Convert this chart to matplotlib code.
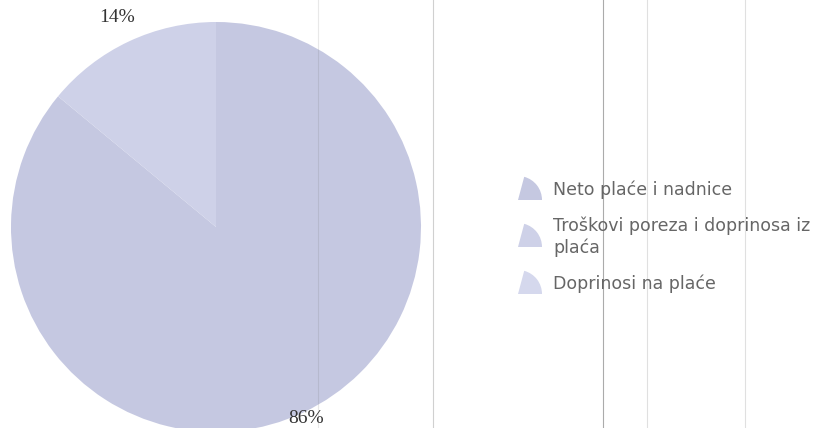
import matplotlib
matplotlib.use('Agg')
import numpy as np
import matplotlib.pyplot as plt
from matplotlib.patches import Wedge
from matplotlib.lines import Line2D

# === 数据 ===
categories = ['Neto plaće i nadnice',
              'Troškovi poreza i doprinosa iz\nplaća',
              'Doprinosi na plaće']
shares = [86, 14, 0]
colors = ['#c5c8e1', '#ced1e8', '#d5d8ed']
label_dist = [1.03, 1.13, 1.13]   # 86% label sits lower, half on the page edge

W, H, DPI = 833, 428, 100
fig = plt.figure(figsize=(W / DPI, H / DPI), dpi=DPI)
fig.patch.set_facecolor('white')

# pie placed in pixel coords (centre / radius)
cx, cy, r = 216, 227, 205
ax = fig.add_axes([(cx - r) / W, (H - cy - r) / H, 2 * r / W, 2 * r / H])

vals = [v for v in shares if v > 0]
cols = [c for v, c in zip(shares, colors) if v > 0]
dists = [d for v, d in zip(shares, label_dist) if v > 0]
wedges, _ = ax.pie(vals, colors=cols, startangle=90, counterclock=False,
                   wedgeprops=dict(linewidth=0))
for w, v, d in zip(wedges, vals, dists):
    ang = np.deg2rad((w.theta1 + w.theta2) / 2)
    ax.text(d * np.cos(ang), d * np.sin(ang), f'{v}%', ha='center', va='center',
            family='Liberation Serif', fontsize=14, color='#333333', clip_on=False)
ax.set_xlim(-1, 1)
ax.set_ylim(-1, 1)
ax.set_aspect('equal')
ax.axis('off')

# --- legend drawn by hand (quarter-wedge swatches like the original) ---
leg_y = [190, 237, 284]
for lab, col, y in zip(categories, colors, leg_y):
    sw = Wedge((518 / DPI, (H - y - 10) / DPI), 0.24, 0, 75,
               transform=fig.dpi_scale_trans, facecolor=col, edgecolor='none')
    fig.add_artist(sw)
    fig.text(553 / W, 1 - y / H, lab, ha='left', va='center',
             family='DejaVu Sans', fontsize=12.5, color='#666666', linespacing=1.25)

# scanner streaks
for x, a in [(318, 0.15), (433, 0.3), (603, 0.55), (647, 0.2), (745, 0.2)]:
    fig.add_artist(Line2D([x / W, x / W], [0, 1], color='#666666', lw=0.8, alpha=a,
                          transform=fig.transFigure))

plt.savefig('out.png', dpi=DPI)
